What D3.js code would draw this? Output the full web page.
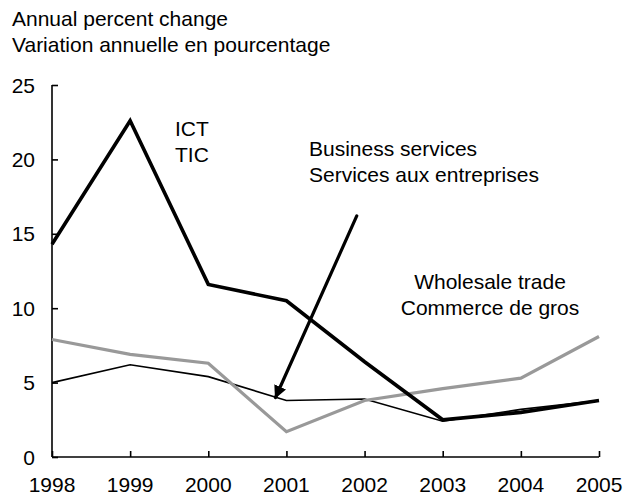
<!DOCTYPE html>
<html>
<head>
<meta charset="utf-8">
<script src="https://cdn.jsdelivr.net/npm/d3@7"></script>
<style>
  body { margin: 0; background: #fff; }
  svg text { font-family: "Liberation Sans", Arial, Helvetica, sans-serif; fill: #000; }
</style>
</head>
<body>
<div id="chart"></div>
<script>
//data
const years = [1998, 1999, 2000, 2001, 2002, 2003, 2004, 2005]
const ict = [14.3, 22.6, 11.6, 10.5, 6.4, 2.5, 3.0, 3.8]
const business = [5.0, 6.2, 5.4, 3.8, 3.9, 2.4, 3.2, 3.8]
const wholesale = [7.9, 6.9, 6.3, 1.7, 3.8, 4.6, 5.3, 8.1]
const yTicks = [0, 5, 10, 15, 20, 25]
const titleLines = ['Annual percent change', 'Variation annuelle en pourcentage']
// arrow for business services label, in data units [year, value]
const arrowFrom = [2001.9, 16.2]
const arrowTo = [2000.86, 4.0]

//consts
const
  width = 625,
  height = 497,
  plotLeft = 52,
  plotRight = 599,
  plotTop = 85,
  plotBottom = 457,
  fontSize = 21,
  tickLen = 6

const x = d3.scaleLinear().domain([1998, 2005]).range([plotLeft, plotRight])
const y = d3.scaleLinear().domain([0, 25]).range([plotBottom, plotTop])

const svg = d3.select('#chart')
  .append('svg')
  .attr('width', width)
  .attr('height', height)

//title
svg.append('g')
  .selectAll('text')
  .data(titleLines)
  .enter()
  .append('text')
  .attr('x', 12)
  .attr('y', (d, i) => 26 + i * 26)
  .attr('font-size', fontSize)
  .text(d => d)

//axes
const yAxis = d3.axisRight(y).tickValues(yTicks).tickSize(tickLen).tickFormat('')
svg.append('g')
  .attr('transform', 'translate(' + plotLeft + ',0)')
  .call(yAxis)
  .call(g => g.select('.domain').attr('d', 'M0,' + plotTop + 'V' + plotBottom))

const xAxis = d3.axisTop(x).tickValues(years).tickSize(tickLen).tickFormat('')
svg.append('g')
  .attr('transform', 'translate(0,' + plotBottom + ')')
  .call(xAxis)
  .call(g => g.select('.domain').attr('d', 'M' + plotLeft + ',0H' + plotRight))

svg.selectAll('.domain, .tick line')
  .attr('stroke', '#000')
  .attr('stroke-width', 1.6)

//y labels
svg.append('g')
  .selectAll('text')
  .data(yTicks)
  .enter()
  .append('text')
  .attr('x', 35)
  .attr('y', d => y(d))
  .attr('dy', '0.36em')
  .attr('text-anchor', 'end')
  .attr('font-size', fontSize)
  .text(d => d)

//x labels
svg.append('g')
  .selectAll('text')
  .data(years)
  .enter()
  .append('text')
  .attr('x', d => x(d))
  .attr('y', 492)
  .attr('text-anchor', 'middle')
  .attr('font-size', fontSize)
  .text(d => d)

//lines
const line = d3.line()
  .x((d, i) => x(years[i]))
  .y(d => y(d))

const series = [
  { values: business, color: '#000', w: 1.6 },
  { values: wholesale, color: '#999', w: 3.2 },
  { values: ict, color: '#000', w: 3.6 }
]
svg.append('g')
  .selectAll('path')
  .data(series)
  .enter()
  .append('path')
  .attr('d', d => line(d.values))
  .attr('fill', 'none')
  .attr('stroke', d => d.color)
  .attr('stroke-width', d => d.w)
  .attr('stroke-linejoin', 'miter')

//arrow
svg.append('defs')
  .append('marker')
  .attr('id', 'head')
  .attr('viewBox', '0 0 10 10')
  .attr('refX', 9)
  .attr('refY', 5)
  .attr('markerWidth', 4)
  .attr('markerHeight', 4)
  .attr('markerUnits', 'strokeWidth')
  .attr('orient', 'auto')
  .append('path')
  .attr('d', 'M0,0L10,5L0,10z')
  .attr('fill', '#000')

svg.append('line')
  .attr('x1', x(arrowFrom[0]))
  .attr('y1', y(arrowFrom[1]))
  .attr('x2', x(arrowTo[0]))
  .attr('y2', y(arrowTo[1]))
  .attr('stroke', '#000')
  .attr('stroke-width', 3.2)
  .attr('stroke-linecap', 'round')
  .attr('marker-end', 'url(#head)')

//labels
const labels = [
  { lines: ['ICT', 'TIC'], x: 175, y: 136, anchor: 'start' },
  { lines: ['Business services', 'Services aux entreprises'], x: 309, y: 156, anchor: 'start' },
  { lines: ['Wholesale trade', 'Commerce de gros'], x: 490, y: 289, anchor: 'middle' }
]
labels.forEach(l => {
  svg.append('g')
    .selectAll('text')
    .data(l.lines)
    .enter()
    .append('text')
    .attr('x', l.x)
    .attr('y', (d, i) => l.y + i * 26)
    .attr('text-anchor', l.anchor)
    .attr('font-size', fontSize)
    .text(d => d)
})
</script>
</body>
</html>
